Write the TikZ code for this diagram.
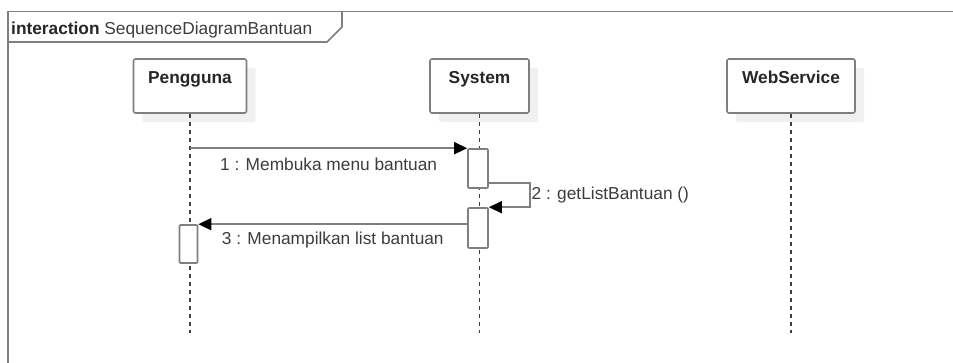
\documentclass[tikz,border=0pt]{standalone}
\usepackage{fontspec}
\setmainfont{Liberation Sans}
\usetikzlibrary{arrows.meta, shadows}

\definecolor{linegray}{HTML}{7F7F7F}
\definecolor{textgray}{HTML}{3C3C3C}

\begin{document}
\begin{tikzpicture}[
  x=1pt, y=-1pt,
  font=\fontsize{17.3}{20}\selectfont,
  text=textgray,
  head/.style  ={rectangle, rounded corners=2pt, draw=linegray, line width=1.6pt, fill=white,
                 minimum width=#1, inner xsep=0pt, inner ysep=0pt, text height=25pt, text depth=29pt,
                 font=\fontsize{17.3}{20}\selectfont\bfseries, text=black!85,
                 drop shadow={shadow xshift=9pt, shadow yshift=-9pt, fill=black!6, opacity=1}},
  act/.style   ={rectangle, rounded corners=1pt, draw=linegray, line width=1.6pt, fill=white,
                 minimum width=20pt, minimum height=#1, inner sep=0pt},
  life/.style  ={draw=black!75, line width=1.3pt, dash pattern=on 4pt off 4pt},
  msg/.style   ={draw=linegray, line width=1.6pt, -{Triangle[length=13pt, width=12pt, color=black]}},
  frame/.style ={draw=linegray, line width=1.6pt},
  lbl/.style   ={text=textgray}
]
\useasboundingbox (0,0) rectangle (953,363);

% ---- interaction frame ----
\draw[frame] (8,363) -- (8,11.5) -- (953,11.5);
\draw[frame] (8,42) -- (327,42) -- (342,27) -- (342,11.5);
\node[anchor=base west, inner sep=0pt, text=black!85] (title) at (11,35)
   {\textbf{interaction} \textcolor{textgray}{SequenceDiagramBantuan}};

% ---- lifeline heads ----
\node[head=113pt] (user) at (190,86)    {Pengguna};
\node[head=99pt]  (sys)  at (479.5,86)  {System};
\node[head=128pt] (ws)   at (791,86)    {WebService};

% ---- lifelines ----
\coordinate (userEnd) at (190,333);
\coordinate (sysEnd)  at (479.5,333);
\coordinate (wsEnd)   at (791,333);
\draw[life] (user) -- (userEnd);
\draw[life] (sys)  -- (sysEnd);
\draw[life] (ws)   -- (wsEnd);

% ---- activations ----
\node[act=39pt] (act1) at (478,168.5) {};
\node[act=40pt] (act2) at (478,228)   {};
\node[act=38pt, minimum width=18pt] (act3) at (188.5,244) {};

% ---- messages ----
\draw[msg] (user |- act1.north west) -- node[lbl, below=6pt] {1 : Membuka menu bantuan} (act1.north west);
\draw[msg] ([yshift=6pt]act1.south east) -- ++(41,0) |- (act2.north east)
   node[lbl, pos=0.25, right=0pt, inner xsep=1pt] {2 : getListBantuan ()};
\draw[msg] (act2.west |- act3.north east) -- node[lbl, below=4pt] {3 : Menampilkan list bantuan} (act3.north east);

\end{tikzpicture}
\end{document}
